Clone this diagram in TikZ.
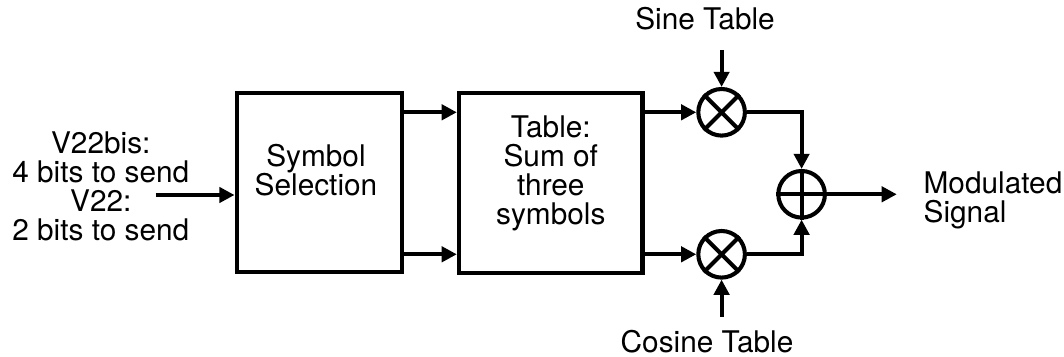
\documentclass[tikz,border=0pt]{standalone}
\usepackage{fontspec}
\setmainfont{TeX Gyre Heros}
\usetikzlibrary{arrows.meta}
\begin{document}
\begin{tikzpicture}[
    every path/.style={>={Triangle[length=0.38cm,width=0.38cm]}},
    every node/.style={},
    inner sep=0pt,
    line width=2.9pt,
    font=\fontsize{21.2pt}{20.6pt}\selectfont,
    block/.style={draw,rectangle,line width=3.1pt},
    mixer/.style={draw,circle,minimum size=1.165cm},
    txt/.style={align=center}
    ]
    
    \useasboundingbox (0,0) rectangle (26.6,-8.925);
    
    % nodes
    \node[block,minimum width=4.125cm,minimum height=4.475cm] (sel) at (7.98,-4.5625) {};
    \node[block,minimum width=4.59cm,minimum height=4.5cm] (tab) at (13.77,-4.5675) {};
    \node[txt] (seltxt) at (7.9,-4.25) {Symbol\\Selection};
    \node[txt] (tabtxt) at (13.77,-4.325) {Table:\\Sum of\\three\\symbols};
    \node[txt] (bits) at (2.52,-4.66) {V22bis:\\4 bits to send\\V22:\\2 bits to send};
    
    \node[mixer] (mulA) at (18.04,-2.8075) {};
    \node[mixer] (mulB) at (18.04,-6.3575) {};
    \node[mixer] (sum) at (20.04,-4.8575) {};
    
    \node[txt] (sine) at (17.625,-0.475) {Sine Table};
    \node[txt] (cosine) at (17.675,-8.53) {Cosine Table};
    \node[align=left,anchor=west] (out) at (23.04,-5.01) {Modulated\\Signal};
    
    \coordinate (in) at (3.89,-4.875);
    \coordinate (sinein) at (18.04,-1.25);
    \coordinate (cosin) at (18.04,-7.925);
    \coordinate (outend) at (22.42,-4.8575);
    
    % crosses
    \draw (mulA.north west) -- (mulA.south east) (mulA.north east) -- (mulA.south west);
    \draw (mulB.north west) -- (mulB.south east) (mulB.north east) -- (mulB.south west);
    \draw (sum.north) -- (sum.south) (sum.west) -- (sum.east);
    
    % edges
    \draw[->] (in) -- (in -| sel.west);
    \draw[->] (sel.east |- mulA) -- (tab.west |- mulA);
    \draw[->] (sel.east |- mulB) -- (tab.west |- mulB);
    \draw[->] (tab.east |- mulA) -- (mulA);
    \draw[->] (tab.east |- mulB) -- (mulB);
    \draw[->] (sinein) -- (mulA);
    \draw[->] (cosin) -- (mulB);
    \draw[->] (mulA) -| (sum);
    \draw[->] (mulB) -| (sum);
    \draw[->] (sum) -- (outend);
    
\end{tikzpicture}
\end{document}
